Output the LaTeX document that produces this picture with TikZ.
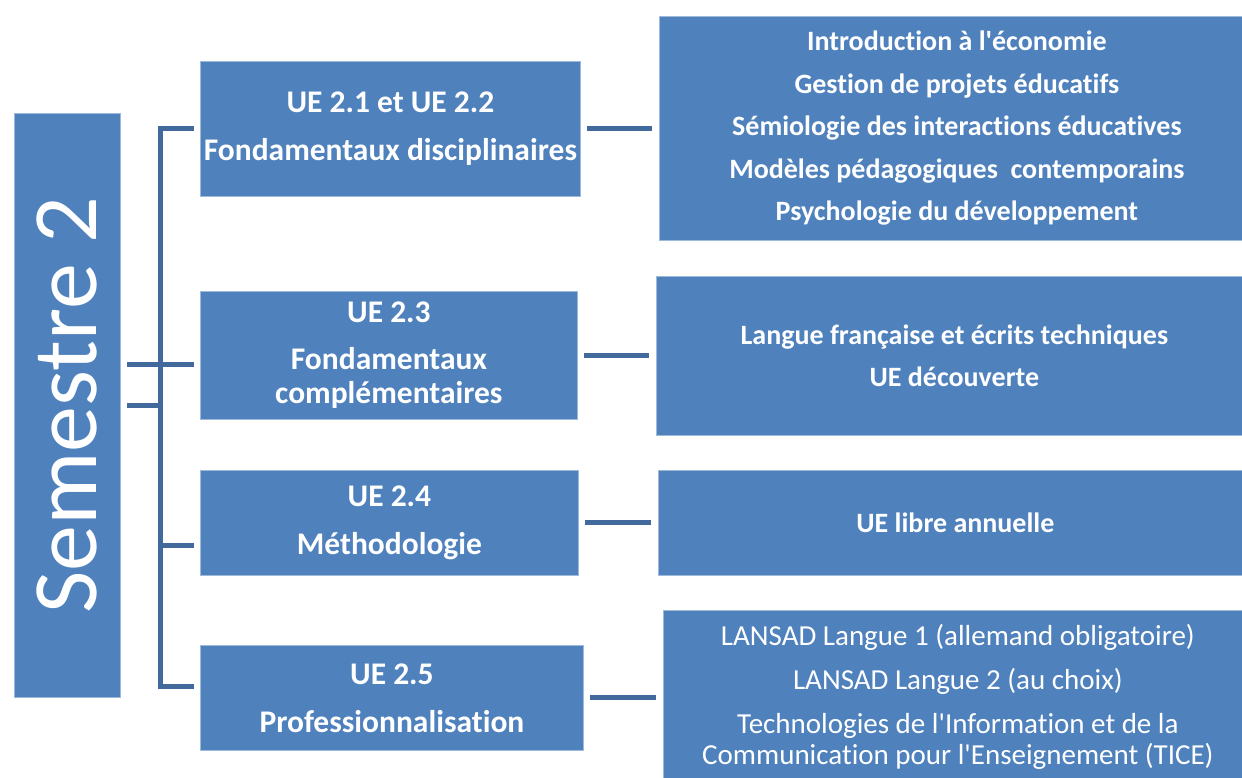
\documentclass[tikz,border=0pt]{standalone}
\usepackage{fontspec}
\setmainfont{Carlito}[Ligatures=TeXOff,RawFeature={-liga;-clig;-calt;-dlig}]
\usepackage{graphicx}
\usepackage{xcolor}
\definecolor{boxblue}{HTML}{4F81BD}
\definecolor{lineblue}{HTML}{41699C}

\begin{document}
\begin{tikzpicture}[
			     x=1pt, y=-1pt,
			     every node/.style={text=white, inner sep=0pt, align=center},
			     block/.style={fill=boxblue, draw=boxblue!55!white, line width=0.8pt, anchor=north west},
			     ue/.style={block, font=\bfseries\fontsize{31.5}{34}\selectfont},
			     topics/.style={block, font=\bfseries\fontsize{28}{42.5}\selectfont},
			     link/.style={draw=lineblue, line width=5pt}
			     ]
\useasboundingbox (0,0) rectangle (1242,778);

\node[block, minimum width=106pt, minimum height=584pt, font=\fontsize{92}{96}\selectfont] (sem) at (14,113) {\rotatebox{90}{Semestre 2}};

\node[ue, minimum width=380pt, minimum height=135pt] (ue1) at (200,61) {UE 2.1 et UE 2.2\\[14pt]Fondamentaux disciplinaires};
\node[ue, minimum width=377pt, minimum height=128pt] (ue2) at (200,291) {UE 2.3\\[13pt]Fondamentaux\\complémentaires};
\node[ue, minimum width=378pt, minimum height=105pt] (ue3) at (200,470) {UE 2.4\\[14pt]Méthodologie};
\node[ue, minimum width=383pt, minimum height=105pt] (ue4) at (200,645) {UE 2.5\\[14pt]Professionnalisation};

\node[topics, minimum width=595pt, minimum height=224pt] (c1) at (659,16) {Introduction à l'économie\\Gestion de projets éducatifs\\Sémiologie des interactions éducatives\\Modèles pédagogiques~ contemporains\\Psychologie du développement};
\node[topics, minimum width=596pt, minimum height=159pt] (c2) at (656,276) {Langue française et écrits techniques\\UE découverte};
\node[topics, minimum width=594pt, minimum height=105pt] (c3) at (658,470) {UE libre annuelle};
\node[block, font=\fontsize{29}{31.5}\selectfont, minimum width=589pt, minimum height=173pt] (c4) at (663,610) {LANSAD Langue 1 (allemand obligatoire)\\[13pt]LANSAD Langue 2 (au choix)\\[12pt]Technologies de l'Information et de la\\Communication pour l'Enseignement (TICE)};

\coordinate (bot) at (160,686);
\coordinate (t2) at (160,364);
\coordinate (t3) at (160,545);
\coordinate (s2) at (160,405);

\draw[link, shorten <=6pt, shorten >=6pt] (ue1.west) -| (bot) -- (bot -| ue4.west);
\draw[link, shorten <=6pt, shorten >=6pt] (sem.east |- t2) -- (t2 -| ue2.west);
\draw[link, shorten <=6pt] (sem.east |- s2) -- (s2);
\draw[link, shorten >=6pt] (t3) -- (t3 -| ue3.west);

\draw[link, shorten <=6pt, shorten >=7pt] (ue1.east) -- (ue1.east -| c1.west);
\draw[link, shorten <=6pt, shorten >=7pt] (ue2.east) -- (ue2.east -| c2.west);
\draw[link, shorten <=6pt, shorten >=7pt] (ue3.east) -- (ue3.east -| c3.west);
\draw[link, shorten <=6pt, shorten >=7pt] (ue4.east) -- (ue4.east -| c4.west);
\end{tikzpicture}
\end{document}
